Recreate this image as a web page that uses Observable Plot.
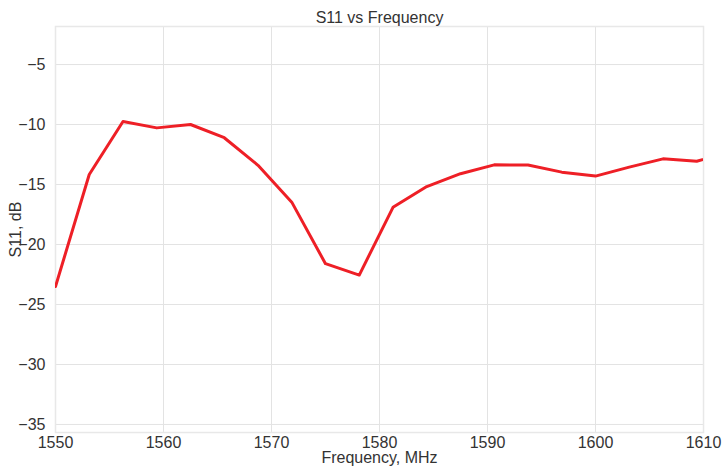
<!DOCTYPE html>
<html>
<head>
<meta charset="utf-8">
<script src="https://cdn.jsdelivr.net/npm/d3@7"></script>
<script src="https://cdn.jsdelivr.net/npm/@observablehq/plot@0.6"></script>
<style>
  html, body { margin: 0; padding: 0; background: #fff; }
  svg { display: block; }
</style>
</head>
<body>
<div id="chart"></div>
<script>
const frequency = [1550, 1553.125, 1556.25, 1559.375, 1562.5, 1565.625, 1568.75, 1571.875, 1575, 1578.125,
  1581.25, 1584.375, 1587.5, 1590.625, 1593.75, 1596.875, 1600, 1603.125, 1606.25, 1609.375, 1612.5];
const s11 = [-23.5, -14.17, -9.75, -10.28, -10.0, -11.1, -13.4, -16.47, -21.6, -22.55,
  -16.9, -15.17, -14.1, -13.36, -13.38, -13.97, -14.3, -13.55, -12.86, -13.06, -12.3];
const xTicks = [1550, 1560, 1570, 1580, 1590, 1600, 1610];
const yTicks = [-35, -30, -25, -20, -15, -10, -5];
const title = "S11 vs Frequency";
const xLabel = "Frequency, MHz";
const yLabel = "S11, dB";

const data = frequency.map((f, i) => ({f, v: s11[i]}));
const font = "'Liberation Sans', Arial, sans-serif";

const chart = Plot.plot({
  width: 724,
  height: 471,
  marginLeft: 55,
  marginRight: 21,
  marginTop: 26,
  marginBottom: 39,
  style: {fontFamily: font, fontSize: "16px", color: "#333", background: "#fff"},
  x: {domain: [1550, 1610], ticks: xTicks},
  y: {domain: [-35.67, -1.83], ticks: yTicks},
  marks: [
    Plot.gridX(xTicks, {stroke: "#e3e3e3", strokeOpacity: 1, strokeWidth: 1}),
    Plot.gridY(yTicks, {stroke: "#e3e3e3", strokeOpacity: 1, strokeWidth: 1}),
    Plot.frame({stroke: "#e8e8e8", strokeWidth: 1.5}),
    Plot.axisX(xTicks, {tickSize: 0, tickPadding: 4, fontSize: 16, fill: "#333", tickFormat: d => String(d), label: null}),
    Plot.axisY(yTicks, {tickSize: 0, tickPadding: 10, fontSize: 16, fill: "#333", label: null}),
    Plot.line(data, {x: "f", y: "v", stroke: "#ee1f26", strokeWidth: 3, clip: true}),
    Plot.text([title], {frameAnchor: "top", lineAnchor: "middle", textAnchor: "middle", dy: -9, text: d => d, fontSize: 16, fill: "#333"}),
    Plot.text([xLabel], {frameAnchor: "bottom", lineAnchor: "middle", textAnchor: "middle", dy: 25, text: d => d, fontSize: 16, fill: "#333"}),
    Plot.text([yLabel], {frameAnchor: "left", lineAnchor: "middle", textAnchor: "middle", dx: -40, rotate: -90, text: d => d, fontSize: 16, fill: "#333"})
  ]
});
document.getElementById("chart").appendChild(chart);
</script>
</body>
</html>
